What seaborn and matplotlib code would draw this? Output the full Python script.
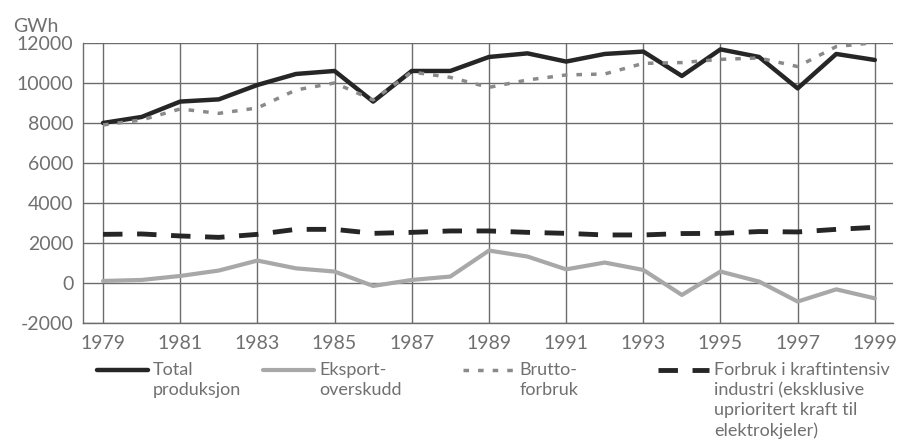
import pandas as pd
import seaborn as sns
import matplotlib.pyplot as plt
from matplotlib.lines import Line2D
from matplotlib.ticker import MultipleLocator

# data (GWh)
years = list(range(1979, 2000))
total_produksjon = [8000, 8300, 9070, 9180, 9900, 10450, 10600, 9070, 10600, 10600,
                    11300, 11480, 11070, 11450, 11570, 10350, 11680, 11300, 9730, 11450, 11150]
eksport_overskudd = [100, 150, 350, 620, 1120, 730, 570, -150, 150, 320,
                     1620, 1320, 680, 1020, 650, -600, 570, 70, -930, -320, -770]
brutto_forbruk = [7900, 8150, 8700, 8480, 8750, 9650, 10000, 9150, 10550, 10280,
                  9780, 10150, 10400, 10450, 10980, 11020, 11180, 11250, 10820, 11820, 12020]
kraftintensiv = [2430, 2450, 2350, 2280, 2430, 2680, 2680, 2480, 2530, 2600,
                 2600, 2530, 2480, 2400, 2400, 2470, 2480, 2570, 2550, 2680, 2780]

labels = ["Total\nproduksjon", "Eksport-\noverskudd", "Brutto-\nforbruk",
          "Forbruk i kraftintensiv\nindustri (eksklusive\nuprioritert kraft til\nelektrokjeler)"]

df = pd.DataFrame({"år": years, "total": total_produksjon, "eksport": eksport_overskudd,
                   "brutto": brutto_forbruk, "kraft": kraftintensiv})

sns.set_style("white")
plt.rcParams['font.family'] = ['Lato', 'DejaVu Sans']
plt.rcParams['axes.unicode_minus'] = False
tekstfarge = "#707070"
gridfarge = "#6c6c6c"

fig = plt.figure(figsize=(8.98, 4.43), dpi=100)
ax = fig.add_axes([0.0924, 0.271, 0.902, 0.632])

stiler = [
    dict(y="total", color="#262626", lw=3.2, ls="-"),
    dict(y="eksport", color="#a8a8a8", lw=3.0, ls="-"),
    dict(y="brutto", color="#8a8a8a", lw=2.5, ls=(0, (1.6, 2.6))),
    dict(y="kraft", color="#262626", lw=3.5, ls=(0, (4.0, 3.0))),
]
for s in stiler:
    sns.lineplot(data=df, x="år", y=s["y"], ax=ax, color=s["color"],
                 linewidth=s["lw"], linestyle=s["ls"], zorder=3)

ax.set_xlim(1978.48, 1999.47)
ax.set_ylim(-2000, 12000)
ax.set_xticks(years[::2])
ax.xaxis.set_minor_locator(MultipleLocator(1))
ax.set_yticks(range(-2000, 12001, 2000))
ax.set_xlabel("")
ax.set_ylabel("")
ax.grid(True, which="major", color=gridfarge, linewidth=1.0)
ax.tick_params(axis="both", which="major", length=0, labelsize=14, labelcolor=tekstfarge)
ax.tick_params(axis="x", which="major", pad=9)
ax.tick_params(axis="y", which="major", pad=7)
ax.tick_params(axis="x", which="minor", direction="in", length=6, width=1, color=gridfarge)
for side in ["top", "right"]:
    ax.spines[side].set_visible(False)
for side in ["left", "bottom"]:
    ax.spines[side].set_color(gridfarge)
    ax.spines[side].set_linewidth(1.0)

fig.text(0.015, 0.94, "GWh", fontsize=14, color=tekstfarge, va="center")

# legend: one box per entry, top-aligned text
xpos = [0.108, 0.293, 0.516, 0.733]
legs = []
for i, s in enumerate(stiler):
    h = Line2D([], [], color=s["color"], linewidth=s["lw"], linestyle=s["ls"])
    leg = ax.legend([h], [labels[i]], loc="upper left", bbox_to_anchor=(xpos[i], 0.183),
                    bbox_transform=fig.transFigure, frameon=False, fontsize=13,
                    handlelength=2.8, handletextpad=0.3, borderpad=0, borderaxespad=0,
                    labelcolor=tekstfarge)
    for t in leg.get_texts():
        t.set_linespacing(1.32)
    legs.append(leg)
    if i < 3:
        ax.add_artist(leg)

# lift each handle from the text centre up to the first text line
fig.canvas.draw()
hoyder = [leg.get_texts()[0].get_window_extent().height for leg in legs]
steg = (hoyder[3] - hoyder[0]) / 2
for i, leg in enumerate(legs):
    n = labels[i].count("\n")
    for ln in leg.get_lines():
        ln.set_ydata([y + n * steg / 2 * 72 / fig.dpi for y in ln.get_ydata()])

fig.savefig("out.png", dpi=100)
